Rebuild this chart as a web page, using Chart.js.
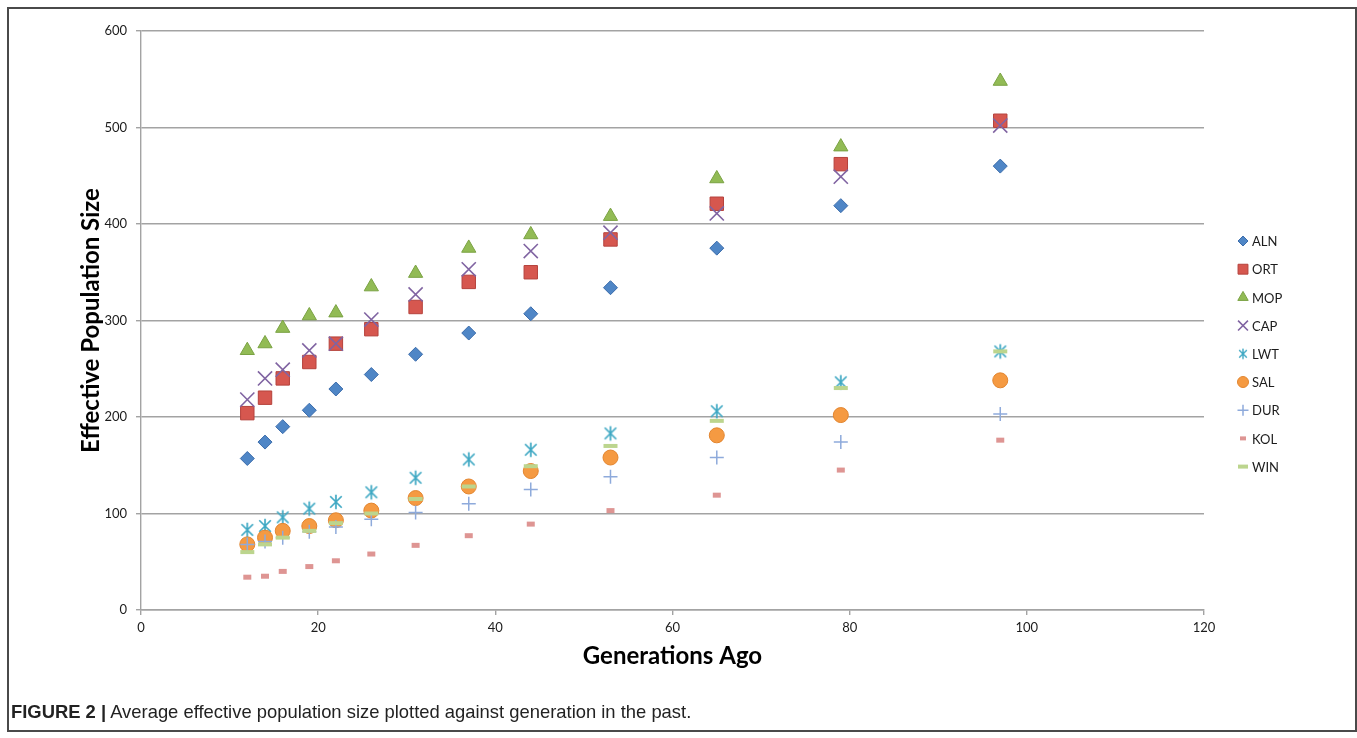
<!DOCTYPE html>
<html>
<head>
<meta charset="utf-8">
<title>Effective population size</title>
<script src="https://cdn.jsdelivr.net/npm/chart.js@4/dist/chart.umd.min.js"></script>
<style>
  html, body { margin: 0; padding: 0; background: #fff; }
  body { width: 1357px; height: 738px; position: relative; overflow: hidden; }
  #frame { position: absolute; left: 7px; top: 7px; width: 1350px; height: 725px; box-sizing: border-box; border: 2px solid #4a4a4a; }
  #wrap { position: absolute; left: 0; top: 0; width: 1357px; height: 738px; }
  #caption { position: absolute; left: 11px; top: 701px; font-family: "Liberation Sans", Arial, sans-serif; font-size: 18.4px; line-height: 22px; color: #222; white-space: nowrap; }
  #caption b { font-weight: bold; }
</style>
</head>
<body>
<div id="frame"></div>
<div id="wrap"><canvas id="chart" width="1357" height="738"></canvas></div>
<div id="caption"><b>FIGURE 2 |</b> Average effective population size plotted against generation in the past.</div>
<script>
// generations ago (x) shared by every population
const GENERATIONS = [12, 14, 16, 19, 22, 26, 31, 37, 44, 53, 65, 79, 97];

const SERIES = ["ALN", "ORT", "MOP", "CAP", "LWT", "SAL", "DUR", "KOL", "WIN"];

const ALN = [157, 174, 190, 207, 229, 244, 265, 287, 307, 334, 375, 419, 460];
const ORT = [204, 220, 240, 257, 276, 291, 314, 340, 350, 384, 421, 462, 507];
const MOP = [269, 276, 292, 305, 308, 335, 349, 375, 389, 408, 447, 480, 548];
const CAP = [218, 240, 249, 269, 276, 301, 327, 353, 372, 391, 411, 449, 502];
const LWT = [83, 87, 96, 105, 112, 122, 137, 156, 166, 183, 206, 236, 268];
const SAL = [68, 75, 82, 87, 93, 103, 116, 128, 144, 158, 181, 202, 238];
const DUR = [68, 71, 75, 81, 86, 94, 101, 110, 125, 138, 158, 174, 203];
const KOL = [34, 35, 40, 45, 51, 58, 67, 77, 89, 103, 119, 145, 176];
const WIN = [60, 68, 75, 82, 90, 100, 115, 128, 149, 170, 196, 230, 268];

const X_TICKS = { min: 0, max: 120, step: 20 };
const Y_TICKS = { min: 0, max: 600, step: 100 };

const X_TITLE = "Generations Ago";
const Y_TITLE = "Effective Population Size";

const GRID = "#a3a3a3";
const TXT = "#1c1c1c";

// excel style asterisk marker (x with a vertical bar)
function asterisk(size, color, lw) {
  const c = document.createElement("canvas");
  c.width = size; c.height = size;
  const g = c.getContext("2d");
  const m = size / 2, a = size * 0.32;
  g.strokeStyle = color;
  g.lineWidth = lw;
  g.beginPath();
  g.moveTo(m - a, m - a); g.lineTo(m + a, m + a);
  g.moveTo(m + a, m - a); g.lineTo(m - a, m + a);
  g.moveTo(m, m - a - 1.5); g.lineTo(m, m + a + 1.5);
  g.stroke();
  return c;
}

const STYLE = {
  ALN: { pointStyle: "rectRot", radius: 7, bg: "#4f86c6", border: "#3b6cab", bw: 1, lr: 5 },
  ORT: { pointStyle: "rect", radius: 9.5, bg: "#d6574f", border: "#b5423c", bw: 1, lr: 7 },
  MOP: { pointStyle: "triangle", radius: 8.2, bg: "#92bb55", border: "#7aa243", bw: 1, lr: 6 },
  CAP: { pointStyle: "crossRot", radius: 10, bg: "#8064a2", border: "#8064a2", bw: 1.6, lr: 7 },
  LWT: { pointStyle: asterisk(18, "#3fa8c3", 1.7), legend: asterisk(12, "#3fa8c3", 1.4), radius: 7, bg: "#3fa8c3", border: "#3fa8c3", bw: 1.7 },
  SAL: { pointStyle: "circle", radius: 7.5, bg: "#f59a42", border: "#e2852f", bw: 1, lr: 5.5 },
  DUR: { pointStyle: "cross", radius: 7, bg: "#8eaadb", border: "#8eaadb", bw: 1.5, lr: 5.5 },
  KOL: { pointStyle: "line", radius: 4, bg: "#de9593", border: "#de9593", bw: 5, lr: 3, lbw: 4 },
  WIN: { pointStyle: "line", radius: 7, bg: "#bcd58e", border: "#bcd58e", bw: 4, lr: 5, lbw: 4 },
};

const VALUES = { ALN, ORT, MOP, CAP, LWT, SAL, DUR, KOL, WIN };

const datasets = SERIES.map((name, i) => {
  const s = STYLE[name];
  return {
    label: name,
    data: GENERATIONS.map((g, k) => ({ x: g, y: VALUES[name][k] })),
    pointStyle: s.pointStyle,
    pointRadius: s.radius,
    backgroundColor: s.bg,
    borderColor: s.border,
    borderWidth: s.bw,
    order: SERIES.length - i, // later series on top, like excel
  };
});

// legend drawn beside the plot, markers like the original
const sideLegend = {
  id: "sideLegend",
  afterDraw(chart) {
    const ctx = chart.ctx;
    const area = chart.chartArea;
    const x0 = area.right + 39;
    const y0 = area.top + 210;
    const step = 28.2;
    ctx.save();
    ctx.font = "13px Lato";
    ctx.textBaseline = "middle";
    SERIES.forEach((name, i) => {
      const s = STYLE[name];
      const y = y0 + i * step;
      ctx.fillStyle = s.bg;
      ctx.strokeStyle = s.border;
      ctx.lineWidth = s.lbw || s.bw;
      Chart.helpers.drawPoint(ctx, {
        pointStyle: s.legend || s.pointStyle,
        radius: s.lr || 5,
        rotation: 0,
        borderWidth: s.lbw || s.bw,
      }, x0, y);
      ctx.fillStyle = TXT;
      ctx.fillText(name, x0 + 9, y + 1);
    });
    ctx.restore();
  },
};

new Chart(document.getElementById("chart"), {
  type: "scatter",
  data: { datasets },
  plugins: [sideLegend],
  options: {
    responsive: false,
    animation: false,
    events: [],
    layout: { padding: { left: 77, top: 31, right: 153, bottom: 67 } },
    plugins: { legend: { display: false }, tooltip: { enabled: false } },
    scales: {
      x: {
        type: "linear",
        min: X_TICKS.min, max: X_TICKS.max,
        ticks: { stepSize: X_TICKS.step, color: TXT, font: { family: "Lato", size: 13 }, padding: 5 },
        grid: { drawOnChartArea: false, tickLength: 5, color: GRID, tickColor: GRID, lineWidth: 1.4 },
        border: { color: GRID, width: 1.4 },
        title: { display: true, text: X_TITLE, color: "#000", font: { family: "Lato", size: 24, weight: "bold" }, padding: { top: 0, bottom: 0 } },
        afterFit(scale) { scale.height = 61; },
      },
      y: {
        type: "linear",
        min: Y_TICKS.min, max: Y_TICKS.max,
        ticks: { stepSize: Y_TICKS.step, color: TXT, font: { family: "Lato", size: 13 }, padding: 9 },
        grid: { tickLength: 5, color: GRID, tickColor: GRID, lineWidth: 1.4 },
        border: { color: GRID, width: 1.4 },
        title: { display: true, text: Y_TITLE, color: "#000", font: { family: "Lato", size: 24, weight: "bold" }, padding: { top: 0, bottom: 0 } },
        afterFit(scale) { scale.width = 64; },
      },
    },
  },
});
</script>
</body>
</html>
